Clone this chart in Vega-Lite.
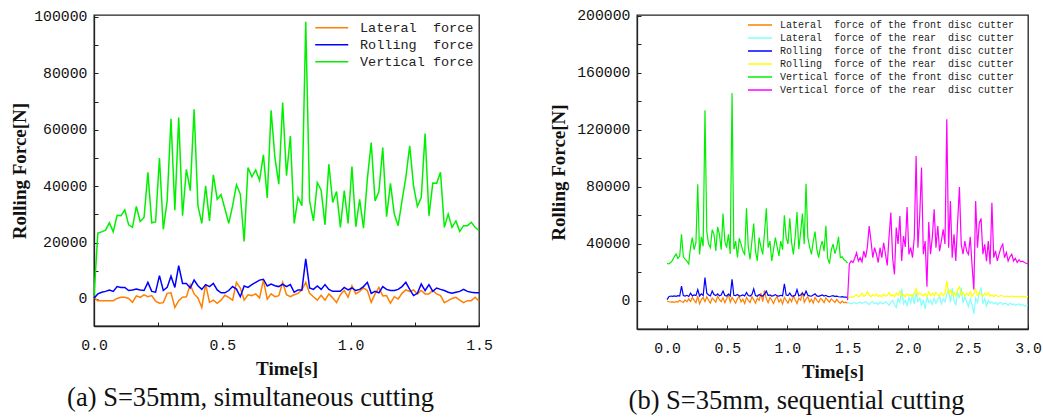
{
"$schema": "https://vega.github.io/schema/vega-lite/v6.json",
"background": "white",
"autosize": {"type": "pad"},
"padding": {"left": 10, "top": 7, "right": 5, "bottom": 5},
"spacing": 158,
"bounds": "flush",
"resolve": {"scale": {"color": "independent"}, "legend": {"color": "independent"}},
"config": {
  "view": {"stroke": "#222", "strokeWidth": 1.3},
  "axis": {"labelFont": "Liberation Mono", "labelFontSize": 14.8, "labelColor": "#111", "titleFont": "Liberation Serif", "titleFontSize": 19, "titleFontWeight": "bold", "titleColor": "#111", "domainColor": "#222", "domainWidth": 1.3, "tickColor": "#222", "tickWidth": 1, "tickSize": -4, "grid": false, "labelFlush": false, "labelOverlap": false}
},
"datasets": {
"a": [
{"t":0,"L":500,"R":300,"V":1000},{"t":0.015,"L":-600,"R":1800,"V":23400},{"t":0.03,"L":-600,"R":2400,"V":23800},{"t":0.045,"L":-600,"R":2700,"V":24400},{"t":0.06,"L":-600,"R":3200,"V":27000},{"t":0.075,"L":-600,"R":2700,"V":23800},{"t":0.09,"L":200,"R":4400,"V":29700},{"t":0.105,"L":600,"R":4100,"V":29500},{"t":0.12,"L":600,"R":4100,"V":31600},{"t":0.135,"L":200,"R":3000,"V":26300},
{"t":0.15,"L":-1200,"R":3200,"V":25400},{"t":0.165,"L":1100,"R":3500,"V":32800},{"t":0.18,"L":600,"R":3200,"V":27500},{"t":0.195,"L":1500,"R":3000,"V":28900},{"t":0.21,"L":800,"R":5900,"V":44900},{"t":0.225,"L":1200,"R":2700,"V":27000},{"t":0.24,"L":-800,"R":2400,"V":27300},{"t":0.255,"L":-1500,"R":8300,"V":50000},{"t":0.27,"L":-1300,"R":3000,"V":24700},{"t":0.285,"L":2000,"R":4100,"V":34800},
{"t":0.3,"L":2200,"R":8100,"V":63900},{"t":0.315,"L":-3000,"R":4100,"V":31500},{"t":0.33,"L":-600,"R":11800,"V":64300},{"t":0.345,"L":600,"R":5500,"V":29500},{"t":0.36,"L":800,"R":5500,"V":46000},{"t":0.375,"L":5100,"R":3900,"V":38400},{"t":0.39,"L":1800,"R":6700,"V":67300},{"t":0.405,"L":400,"R":4700,"V":33000},{"t":0.42,"L":-3000,"R":3400,"V":26800},{"t":0.435,"L":5300,"R":5100,"V":40100},
{"t":0.45,"L":-1200,"R":4400,"V":27700},{"t":0.465,"L":-400,"R":5500,"V":44000},{"t":0.48,"L":-1500,"R":3200,"V":35400},{"t":0.495,"L":-400,"R":2200,"V":37000},{"t":0.51,"L":1300,"R":2200,"V":32000},{"t":0.525,"L":600,"R":3000,"V":26800},{"t":0.54,"L":-400,"R":4400,"V":33000},{"t":0.555,"L":5900,"R":3500,"V":40500},{"t":0.57,"L":3900,"R":800,"V":37200},{"t":0.585,"L":-400,"R":4600,"V":20400},
{"t":0.6,"L":1500,"R":4100,"V":46600},{"t":0.615,"L":1200,"R":5100,"V":43300},{"t":0.63,"L":1800,"R":5900,"V":45700},{"t":0.645,"L":400,"R":6700,"V":42100},{"t":0.66,"L":6700,"R":7000,"V":51100},{"t":0.675,"L":-100,"R":4600,"V":35800},{"t":0.69,"L":1800,"R":5300,"V":66900},{"t":0.705,"L":800,"R":4700,"V":50000},{"t":0.72,"L":1200,"R":4400,"V":40700},{"t":0.735,"L":5900,"R":5300,"V":69700},
{"t":0.75,"L":1500,"R":4400,"V":43700},{"t":0.765,"L":800,"R":5100,"V":57800},{"t":0.78,"L":1500,"R":2400,"V":26800},{"t":0.795,"L":2000,"R":3200,"V":36000},{"t":0.81,"L":3200,"R":3200,"V":33100},{"t":0.825,"L":5900,"R":14200,"V":98300},{"t":0.84,"L":2000,"R":3900,"V":34800},{"t":0.855,"L":800,"R":3400,"V":27700},{"t":0.87,"L":-400,"R":4600,"V":41300},{"t":0.885,"L":1300,"R":3400,"V":38600},
{"t":0.9,"L":-400,"R":5100,"V":26300},{"t":0.915,"L":1800,"R":3400,"V":47800},{"t":0.93,"L":400,"R":2700,"V":34200},{"t":0.945,"L":-1300,"R":2700,"V":38100},{"t":0.96,"L":1500,"R":2700,"V":25400},{"t":0.975,"L":3000,"R":4100,"V":38400},{"t":0.99,"L":600,"R":3200,"V":26800},{"t":1.005,"L":4700,"R":3900,"V":47000},{"t":1.02,"L":1800,"R":3000,"V":25600},{"t":1.035,"L":2700,"R":3400,"V":35300},
{"t":1.05,"L":3900,"R":4400,"V":25100},{"t":1.065,"L":3000,"R":5900,"V":42500},{"t":1.08,"L":-1200,"R":2000,"V":55500},{"t":1.095,"L":1800,"R":2700,"V":34800},{"t":1.11,"L":4100,"R":2200,"V":38100},{"t":1.125,"L":1100,"R":4400,"V":53700},{"t":1.14,"L":1200,"R":3400,"V":29200},{"t":1.155,"L":-1500,"R":3000,"V":41000},{"t":1.17,"L":800,"R":3000,"V":30100},{"t":1.185,"L":0,"R":3400,"V":26000},
{"t":1.2,"L":2000,"R":4400,"V":34800},{"t":1.215,"L":3200,"R":5900,"V":43100},{"t":1.23,"L":2700,"R":3400,"V":54300},{"t":1.245,"L":3200,"R":1200,"V":40100},{"t":1.26,"L":1800,"R":2000,"V":32800},{"t":1.275,"L":3000,"R":5300,"V":36000},{"t":1.29,"L":1800,"R":3000,"V":58700},{"t":1.305,"L":1800,"R":5100,"V":29500},{"t":1.32,"L":3000,"R":2700,"V":41100},{"t":1.335,"L":1800,"R":3900,"V":41000},
{"t":1.35,"L":1200,"R":3400,"V":44900},{"t":1.365,"L":-1300,"R":3000,"V":25400},{"t":1.38,"L":-600,"R":2400,"V":30100},{"t":1.395,"L":200,"R":2000,"V":25400},{"t":1.41,"L":600,"R":2400,"V":27700},{"t":1.425,"L":-400,"R":2700,"V":24000},{"t":1.44,"L":-1300,"R":3400,"V":26000},{"t":1.455,"L":-600,"R":2700,"V":26000},{"t":1.47,"L":-600,"R":2400,"V":27200},{"t":1.485,"L":600,"R":2200,"V":25400},
{"t":1.5,"L":-800,"R":2200,"V":24200}
],
"b": [
{"t":0,"LF":0,"RF":1000,"VF":26400},{"t":0.015,"LF":-500,"RF":3000,"VF":26000},{"t":0.03,"LF":-800,"RF":3500,"VF":27000},{"t":0.045,"LF":-600,"RF":3200,"VF":28500},{"t":0.06,"LF":-900,"RF":3600,"VF":31000},{"t":0.075,"LF":-500,"RF":3300,"VF":33000},{"t":0.09,"LF":-700,"RF":3800,"VF":30000},{"t":0.105,"LF":500,"RF":3500,"VF":31500},{"t":0.12,"LF":-400,"RF":10500,"VF":46800},{"t":0.135,"LF":-1000,"RF":3800,"VF":31000},
{"t":0.15,"LF":800,"RF":3500,"VF":29400},{"t":0.165,"LF":-600,"RF":4000,"VF":28000},{"t":0.18,"LF":1500,"RF":3200,"VF":26000},{"t":0.195,"LF":-300,"RF":5500,"VF":38000},{"t":0.21,"LF":2500,"RF":3600,"VF":44500},{"t":0.225,"LF":500,"RF":4200,"VF":36000},{"t":0.24,"LF":-1200,"RF":3800,"VF":41000},{"t":0.255,"LF":3500,"RF":8000,"VF":81900},{"t":0.27,"LF":-2000,"RF":3500,"VF":32700},{"t":0.285,"LF":1000,"RF":5000,"VF":45000},
{"t":0.3,"LF":2500,"RF":3800,"VF":38500},{"t":0.315,"LF":-500,"RF":16400,"VF":133800},{"t":0.33,"LF":3000,"RF":5500,"VF":48700},{"t":0.345,"LF":500,"RF":4200,"VF":40000},{"t":0.36,"LF":-1500,"RF":3600,"VF":37400},{"t":0.375,"LF":2000,"RF":7000,"VF":50000},{"t":0.39,"LF":800,"RF":4500,"VF":46800},{"t":0.405,"LF":-800,"RF":3800,"VF":35100},{"t":0.42,"LF":3500,"RF":5000,"VF":52000},{"t":0.435,"LF":1000,"RF":3600,"VF":46800},
{"t":0.45,"LF":-500,"RF":4200,"VF":36000},{"t":0.465,"LF":2200,"RF":7000,"VF":61300},{"t":0.48,"LF":-1200,"RF":3800,"VF":42000},{"t":0.495,"LF":1500,"RF":3500,"VF":37400},{"t":0.51,"LF":4500,"RF":4800,"VF":46800},{"t":0.525,"LF":-800,"RF":3600,"VF":33000},{"t":0.54,"LF":2500,"RF":15200,"VF":146000},{"t":0.555,"LF":500,"RF":4000,"VF":36300},{"t":0.57,"LF":-1500,"RF":3800,"VF":42000},{"t":0.585,"LF":1800,"RF":4500,"VF":30500},
{"t":0.6,"LF":3000,"RF":3500,"VF":44000},{"t":0.615,"LF":-600,"RF":3800,"VF":39900},{"t":0.63,"LF":1200,"RF":4200,"VF":35000},{"t":0.645,"LF":-1800,"RF":3500,"VF":32700},{"t":0.66,"LF":2500,"RF":6000,"VF":65000},{"t":0.675,"LF":500,"RF":3800,"VF":38000},{"t":0.69,"LF":-1000,"RF":3500,"VF":29200},{"t":0.705,"LF":3000,"RF":4500,"VF":42000},{"t":0.72,"LF":1000,"RF":8500,"VF":54300},{"t":0.735,"LF":-1500,"RF":3800,"VF":35000},
{"t":0.75,"LF":2000,"RF":3300,"VF":28100},{"t":0.765,"LF":400,"RF":4500,"VF":44500},{"t":0.78,"LF":5500,"RF":3800,"VF":38000},{"t":0.795,"LF":-500,"RF":3500,"VF":32700},{"t":0.81,"LF":7500,"RF":4800,"VF":48000},{"t":0.825,"LF":1500,"RF":7000,"VF":65000},{"t":0.84,"LF":-1200,"RF":3800,"VF":37400},{"t":0.855,"LF":2500,"RF":4200,"VF":42000},{"t":0.87,"LF":500,"RF":3500,"VF":28100},{"t":0.885,"LF":-1800,"RF":3800,"VF":36000},
{"t":0.9,"LF":1500,"RF":4500,"VF":44500},{"t":0.915,"LF":3000,"RF":3600,"VF":38000},{"t":0.93,"LF":-800,"RF":3400,"VF":31600},{"t":0.945,"LF":1200,"RF":4000,"VF":42000},{"t":0.96,"LF":-2000,"RF":3600,"VF":36000},{"t":0.975,"LF":2500,"RF":12100,"VF":60100},{"t":0.99,"LF":500,"RF":4200,"VF":44500},{"t":1.005,"LF":-1500,"RF":3800,"VF":40000},{"t":1.02,"LF":1800,"RF":5500,"VF":58000},{"t":1.035,"LF":-500,"RF":3600,"VF":41000},
{"t":1.05,"LF":3500,"RF":3400,"VF":32700},{"t":1.065,"LF":800,"RF":4000,"VF":45000},{"t":1.08,"LF":-1800,"RF":8000,"VF":62500},{"t":1.095,"LF":2000,"RF":3600,"VF":36300},{"t":1.11,"LF":500,"RF":4200,"VF":48000},{"t":1.125,"LF":6500,"RF":5500,"VF":61300},{"t":1.14,"LF":-1000,"RF":3800,"VF":39900},{"t":1.155,"LF":1500,"RF":7000,"VF":82300},{"t":1.17,"LF":3000,"RF":4000,"VF":44500},{"t":1.185,"LF":-800,"RF":3600,"VF":38000},
{"t":1.2,"LF":1200,"RF":3400,"VF":32700},{"t":1.215,"LF":-1500,"RF":4200,"VF":42000},{"t":1.23,"LF":2500,"RF":5000,"VF":48700},{"t":1.245,"LF":500,"RF":3600,"VF":36000},{"t":1.26,"LF":-1000,"RF":3300,"VF":30500},{"t":1.275,"LF":1800,"RF":3800,"VF":38000},{"t":1.29,"LF":800,"RF":4200,"VF":42100},{"t":1.305,"LF":-1200,"RF":3500,"VF":35000},{"t":1.32,"LF":2200,"RF":4000,"VF":52700},{"t":1.335,"LF":500,"RF":3200,"VF":30000},
{"t":1.35,"LF":-800,"RF":3000,"VF":26200},{"t":1.365,"LF":1500,"RF":3500,"VF":36000},{"t":1.38,"LF":300,"RF":3800,"VF":39900},{"t":1.395,"LF":-1000,"RF":3200,"VF":33200},{"t":1.41,"LF":1200,"RF":3400,"VF":37400},{"t":1.425,"LF":-500,"RF":3000,"VF":45000},{"t":1.44,"LF":-1500,"RF":2800,"VF":30500},{"t":1.455,"LF":0,"RF":3000,"VF":31000},{"t":1.47,"LF":-1200,"RF":2700,"VF":29000},{"t":1.485,"LF":-800,"RF":2800,"VF":28100},
{"t":1.5,"LF":-1500,"RF":2500,"VF":26500},
{"t":1.5,"LR":-1000,"RR":2000,"VR":500},{"t":1.515,"LR":-1500,"RR":2500,"VR":26000},{"t":1.53,"LR":-2000,"RR":3000,"VR":28100},{"t":1.545,"LR":-1500,"RR":2800,"VR":27000},{"t":1.56,"LR":-1000,"RR":3500,"VR":30000},{"t":1.575,"LR":-2000,"RR":4500,"VR":33900},{"t":1.59,"LR":-1200,"RR":3000,"VR":28000},{"t":1.605,"LR":-800,"RR":3800,"VR":30400},{"t":1.62,"LR":-1800,"RR":5500,"VR":27500},{"t":1.635,"LR":-1000,"RR":3200,"VR":35100},
{"t":1.65,"LR":-500,"RR":4000,"VR":30400},{"t":1.665,"LR":-1500,"RR":6500,"VR":38000},{"t":1.68,"LR":-2500,"RR":4200,"VR":52600},{"t":1.695,"LR":-1000,"RR":3000,"VR":42100},{"t":1.71,"LR":-500,"RR":4500,"VR":30400},{"t":1.725,"LR":-1800,"RR":3500,"VR":37400},{"t":1.74,"LR":-1200,"RR":5000,"VR":33000},{"t":1.755,"LR":-2500,"RR":3200,"VR":27000},{"t":1.77,"LR":-800,"RR":4000,"VR":37400},{"t":1.785,"LR":-1500,"RR":3000,"VR":30400},
{"t":1.8,"LR":-2000,"RR":4800,"VR":40900},{"t":1.815,"LR":-500,"RR":3500,"VR":33000},{"t":1.83,"LR":-1500,"RR":4000,"VR":25000},{"t":1.845,"LR":-3000,"RR":6000,"VR":45000},{"t":1.86,"LR":-1000,"RR":3500,"VR":62000},{"t":1.875,"LR":500,"RR":4500,"VR":30000},{"t":1.89,"LR":-2500,"RR":3000,"VR":18700},{"t":1.905,"LR":-4500,"RR":5500,"VR":51500},{"t":1.92,"LR":1500,"RR":4000,"VR":40000},{"t":1.935,"LR":-1000,"RR":7000,"VR":59600},
{"t":1.95,"LR":8500,"RR":3500,"VR":28100},{"t":1.965,"LR":-2000,"RR":4500,"VR":45600},{"t":1.98,"LR":500,"RR":3000,"VR":38000},{"t":1.995,"LR":-3000,"RR":5000,"VR":66000},{"t":2.01,"LR":2500,"RR":3800,"VR":32800},{"t":2.025,"LR":-1500,"RR":4500,"VR":37400},{"t":2.04,"LR":4500,"RR":3200,"VR":30400},{"t":2.055,"LR":-2000,"RR":5500,"VR":45000},{"t":2.07,"LR":6000,"RR":8500,"VR":101800},{"t":2.085,"LR":-500,"RR":4000,"VR":37400},
{"t":2.1,"LR":2000,"RR":6000,"VR":60000},{"t":2.115,"LR":-3500,"RR":4500,"VR":93600},{"t":2.13,"LR":1000,"RR":3500,"VR":32800},{"t":2.145,"LR":-5500,"RR":5000,"VR":42000},{"t":2.16,"LR":3000,"RR":3000,"VR":10000},{"t":2.175,"LR":-1000,"RR":6500,"VR":55400},{"t":2.19,"LR":500,"RR":4000,"VR":32800},{"t":2.205,"LR":-2500,"RR":5500,"VR":45000},{"t":2.22,"LR":2000,"RR":3800,"VR":64300},{"t":2.235,"LR":-1500,"RR":6000,"VR":37400},
{"t":2.25,"LR":1000,"RR":4500,"VR":52600},{"t":2.265,"LR":3500,"RR":3500,"VR":35000},{"t":2.28,"LR":-2000,"RR":6000,"VR":42100},{"t":2.295,"LR":1500,"RR":4000,"VR":50300},{"t":2.31,"LR":-500,"RR":5000,"VR":40000},{"t":2.325,"LR":5000,"RR":14000,"VR":127500},{"t":2.34,"LR":8000,"RR":5000,"VR":37400},{"t":2.355,"LR":-1000,"RR":7500,"VR":70200},{"t":2.37,"LR":9000,"RR":4000,"VR":30400},{"t":2.385,"LR":500,"RR":6000,"VR":46800},
{"t":2.4,"LR":-3000,"RR":3500,"VR":28100},{"t":2.415,"LR":6000,"RR":8000,"VR":55000},{"t":2.43,"LR":2000,"RR":10000,"VR":80000},{"t":2.445,"LR":9500,"RR":4500,"VR":39800},{"t":2.46,"LR":-1500,"RR":6000,"VR":32800},{"t":2.475,"LR":3000,"RR":3500,"VR":42100},{"t":2.49,"LR":-500,"RR":5500,"VR":35000},{"t":2.505,"LR":-4000,"RR":4000,"VR":32800},{"t":2.52,"LR":1500,"RR":6500,"VR":45000},{"t":2.535,"LR":-2500,"RR":3500,"VR":25000},
{"t":2.55,"LR":-9000,"RR":5000,"VR":8000},{"t":2.565,"LR":2000,"RR":8500,"VR":70200},{"t":2.58,"LR":-1000,"RR":4000,"VR":37400},{"t":2.595,"LR":5500,"RR":6000,"VR":54800},{"t":2.61,"LR":9500,"RR":4500,"VR":58000},{"t":2.625,"LR":-2000,"RR":3500,"VR":32800},{"t":2.64,"LR":1500,"RR":5500,"VR":39800},{"t":2.655,"LR":-3500,"RR":4000,"VR":28000},{"t":2.67,"LR":500,"RR":6000,"VR":42000},{"t":2.685,"LR":-1500,"RR":3500,"VR":25700},
{"t":2.7,"LR":-500,"RR":4500,"VR":69000},{"t":2.715,"LR":-2000,"RR":3000,"VR":30400},{"t":2.73,"LR":-1000,"RR":4000,"VR":35100},{"t":2.745,"LR":-2500,"RR":3500,"VR":28100},{"t":2.76,"LR":-1500,"RR":3200,"VR":33000},{"t":2.775,"LR":-1000,"RR":4000,"VR":37400},{"t":2.79,"LR":-2500,"RR":3500,"VR":39800},{"t":2.805,"LR":-1500,"RR":3000,"VR":30400},{"t":2.82,"LR":-2000,"RR":3500,"VR":34000},{"t":2.835,"LR":-3000,"RR":3200,"VR":28100},
{"t":2.85,"LR":-1500,"RR":3000,"VR":31000},{"t":2.865,"LR":-2500,"RR":3500,"VR":32800},{"t":2.88,"LR":-2000,"RR":3200,"VR":28100},{"t":2.895,"LR":-3000,"RR":3000,"VR":30000},{"t":2.91,"LR":-2500,"RR":3200,"VR":27000},{"t":2.925,"LR":-2000,"RR":3000,"VR":29000},{"t":2.94,"LR":-3000,"RR":3300,"VR":27500},{"t":2.955,"LR":-2500,"RR":3000,"VR":28000},{"t":2.97,"LR":-3500,"RR":3200,"VR":27000},{"t":2.985,"LR":-3000,"RR":3000,"VR":26500},
{"t":3.0,"LR":-3000,"RR":3200,"VR":26000}
]
},
"hconcat": [
{
  "width": 385, "height": 311,
  "title": {"text": "(a) S=35mm, simultaneous cutting", "orient": "bottom", "anchor": "middle", "dx": -36, "offset": 6, "font": "Liberation Serif", "fontSize": 26.5, "fontWeight": "normal", "color": "#111"},
  "data": {"name": "a"},
  "transform": [{"fold": ["L", "R", "V"], "as": ["k", "v"]}],
  "mark": {"type": "line", "strokeWidth": 1.5},
  "encoding": {
    "x": {"field": "t", "type": "quantitative", "scale": {"domain": [0, 1.5], "nice": false, "zero": false},
      "axis": {"title": "Time[s]", "values": [0, 0.25, 0.5, 0.75, 1, 1.25, 1.5], "labelExpr": "datum.value % 0.5 === 0 ? format(datum.value, '.1f') : ''", "labelPadding": 15, "titlePadding": 8}},
    "y": {"field": "v", "type": "quantitative", "scale": {"domain": [-9580, 100700], "nice": false, "zero": false},
      "axis": {"title": "Rolling Force[N]", "values": [0, 10000, 20000, 30000, 40000, 50000, 60000, 70000, 80000, 90000, 100000], "labelExpr": "datum.value % 20000 === 0 ? format(datum.value, 'd') : ''", "labelPadding": 11, "titlePadding": 4}},
    "color": {"field": "k", "type": "nominal", "scale": {"domain": ["L", "R", "V"], "range": ["#FF8000", "#0000FF", "#00F000"]},
      "legend": {"title": null, "orient": "none", "legendX": 231, "legendY": 6, "symbolType": "M-5.5,0H5.5", "symbolSize": 36, "symbolStrokeWidth": 1.5, "labelFont": "Liberation Mono", "labelFontSize": 13.5, "labelColor": "#222", "labelLimit": 0, "rowPadding": 2, "labelOffset": 21.5, "padding": 0,
        "labelExpr": "datum.label == 'L' ? 'Lateral\u00a0 force' : datum.label == 'R' ? 'Rolling\u00a0 force' : 'Vertical force'"}}
  }
},
{
  "width": 391, "height": 314,
  "title": {"text": "(b) S=35mm, sequential cutting", "orient": "bottom", "anchor": "middle", "dx": -36, "offset": 6, "font": "Liberation Serif", "fontSize": 26.5, "fontWeight": "normal", "color": "#111"},
  "data": {"name": "b"},
  "transform": [{"fold": ["LF", "LR", "RF", "RR", "VF", "VR"], "as": ["k", "v"]}, {"filter": "isValid(datum.v)"}],
  "mark": {"type": "line", "strokeWidth": 1.2},
  "encoding": {
    "x": {"field": "t", "type": "quantitative", "scale": {"domain": [-0.25, 3], "nice": false, "zero": false},
      "axis": {"title": "Time[s]", "values": [0, 0.25, 0.5, 0.75, 1, 1.25, 1.5, 1.75, 2, 2.25, 2.5, 2.75, 3], "labelExpr": "datum.value % 0.5 === 0 ? format(datum.value, '.1f') : ''", "labelPadding": 15, "titlePadding": 8}},
    "y": {"field": "v", "type": "quantitative", "scale": {"domain": [-19650, 200700], "nice": false, "zero": false},
      "axis": {"title": "Rolling Force[N]", "values": [0, 20000, 40000, 60000, 80000, 100000, 120000, 140000, 160000, 180000, 200000], "labelExpr": "datum.value % 40000 === 0 ? format(datum.value, 'd') : ''", "labelPadding": 11, "titlePadding": 8}},
    "color": {"field": "k", "type": "nominal", "scale": {"domain": ["LF", "LR", "RF", "RR", "VF", "VR"], "range": ["#FF8000", "#80FFFF", "#0000FF", "#FFFF00", "#00F000", "#FF00FF"]},
      "legend": {"title": null, "orient": "none", "legendX": 118, "legendY": 5, "symbolType": "M-6,0H6", "symbolSize": 16, "symbolStrokeWidth": 1.5, "labelFont": "Liberation Mono", "labelFontSize": 10, "labelColor": "#222", "labelLimit": 0, "rowPadding": 3, "labelOffset": 15, "padding": 0,
        "labelExpr": "datum.label == 'LF' ? 'Lateral\u00a0 force of the front disc cutter' : datum.label == 'LR' ? 'Lateral\u00a0 force of the rear\u00a0 disc cutter' : datum.label == 'RF' ? 'Rolling\u00a0 force of the front disc cutter' : datum.label == 'RR' ? 'Rolling\u00a0 force of the rear\u00a0 disc cutter' : datum.label == 'VF' ? 'Vertical force of the front disc cutter' : 'Vertical force of the rear\u00a0 disc cutter'"}}
  }
}
]
}
